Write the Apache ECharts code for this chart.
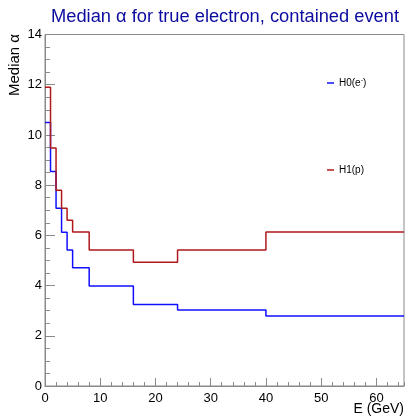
<!DOCTYPE html>
<html>
<head>
<meta charset="utf-8">
<script src="https://cdn.jsdelivr.net/npm/echarts@6/dist/echarts.min.js"></script>
<style>
  html, body { margin: 0; padding: 0; background: #fff; }
  #chart { width: 405px; height: 417px; }
</style>
</head>
<body>
<div id="chart"></div>
<script>
// bin edges (GeV) and median alpha per bin
const binEdges = [0, 1, 2, 3, 4, 5, 8, 16, 24, 40, 65]
const h0Values = [10.5, 8.54, 7.08, 6.12, 5.42, 4.71, 3.98, 3.25, 3.03, 2.79]
const h1Values = [11.9, 9.48, 7.8, 7.08, 6.6, 6.13, 5.42, 4.93, 5.42, 6.13]

// histogram -> step points: one per lower edge, plus the last upper edge
const toSteps = (vals) => {
  const pts = vals.map((v, i) => [binEdges[i], v])
  pts.push([binEdges[binEdges.length - 1], vals[vals.length - 1]])
  return pts
}

const FONT = 'Liberation Sans, Arial, Helvetica, sans-serif'
const AXIS_COLOR = '#8a8a8a'

const chart = echarts.init(document.getElementById('chart'))

chart.setOption({
  animation: false,
  title: {
    text: 'Median α for true electron, contained event',
    right: 1,
    top: 3,
    textStyle: { color: '#0c0ca0', fontSize: 18.3, fontWeight: 'normal', fontFamily: FONT }
  },
  grid: {
    left: 45, right: 1, top: 34.5, bottom: 31,
    outerBoundsMode: 'none',
    containLabel: false,
    show: true, borderColor: AXIS_COLOR, borderWidth: 1
  },
  legend: [
    {
      data: ['H0'],
      left: 327,
      top: 77,
      padding: 0,
      icon: 'rect',
      itemWidth: 7,
      itemHeight: 1.5,
      formatter: () => '{a|H0(e}{s|-}{a|)}',
      textStyle: {
        fontFamily: FONT,
        rich: {
          a: { fontSize: 10, color: '#000', fontFamily: FONT },
          s: { fontSize: 7, color: '#000', fontFamily: FONT, verticalAlign: 'top', padding: [0, 0, 5, 0] }
        }
      }
    },
    {
      data: ['H1'],
      left: 327,
      top: 165,
      padding: 0,
      icon: 'rect',
      itemWidth: 7,
      itemHeight: 1.5,
      formatter: () => 'H1(p)',
      textStyle: { fontFamily: FONT, fontSize: 10, color: '#000' }
    }
  ],
  xAxis: [
    {
      type: 'value',
      min: 0,
      max: 65,
      interval: 10,
      axisLine: { lineStyle: { color: AXIS_COLOR } },
      axisTick: { inside: true, length: 8, lineStyle: { color: AXIS_COLOR } },
      axisLabel: { showMaxLabel: false, margin: 6, fontFamily: FONT, fontSize: 13, color: '#000' },
      splitLine: { show: false }
    },
    {
      // minor ticks every 2 GeV
      type: 'value',
      min: 0,
      max: 65,
      interval: 2,
      position: 'bottom',
      axisLine: { show: false },
      axisTick: { inside: true, length: 4, lineStyle: { color: AXIS_COLOR } },
      axisLabel: { show: false },
      splitLine: { show: false }
    }
  ],
  yAxis: {
    type: 'value',
    min: 0,
    max: 14,
    interval: 2,
    axisLine: { show: true, lineStyle: { color: AXIS_COLOR } },
    axisTick: { show: true, inside: true, length: 10, lineStyle: { color: AXIS_COLOR } },
    minorTick: { show: true, splitNumber: 4, length: 5, lineStyle: { color: AXIS_COLOR } },
    axisLabel: { margin: 3, fontFamily: FONT, fontSize: 13, color: '#000' },
    splitLine: { show: false }
  },
  graphic: [
    {
      type: 'text',
      x: 22,
      y: 34,
      rotation: Math.PI / 2,
      style: { text: 'Median α', font: '15px ' + FONT, fill: '#000', align: 'right', verticalAlign: 'bottom' }
    },
    {
      type: 'text',
      x: 404,
      y: 402,
      style: { text: 'E (GeV)', font: '14px ' + FONT, fill: '#000', align: 'right', verticalAlign: 'top' }
    }
  ],
  series: [
    {
      name: 'H0',
      type: 'line',
      step: 'end',
      data: toSteps(h0Values),
      showSymbol: false,
      color: '#1010ff',
      lineStyle: { width: 1.5, color: '#1010ff' }
    },
    {
      name: 'H1',
      type: 'line',
      step: 'end',
      data: toSteps(h1Values),
      showSymbol: false,
      color: '#b0181b',
      lineStyle: { width: 1.5, color: '#b0181b' }
    }
  ]
})
</script>
</body>
</html>
